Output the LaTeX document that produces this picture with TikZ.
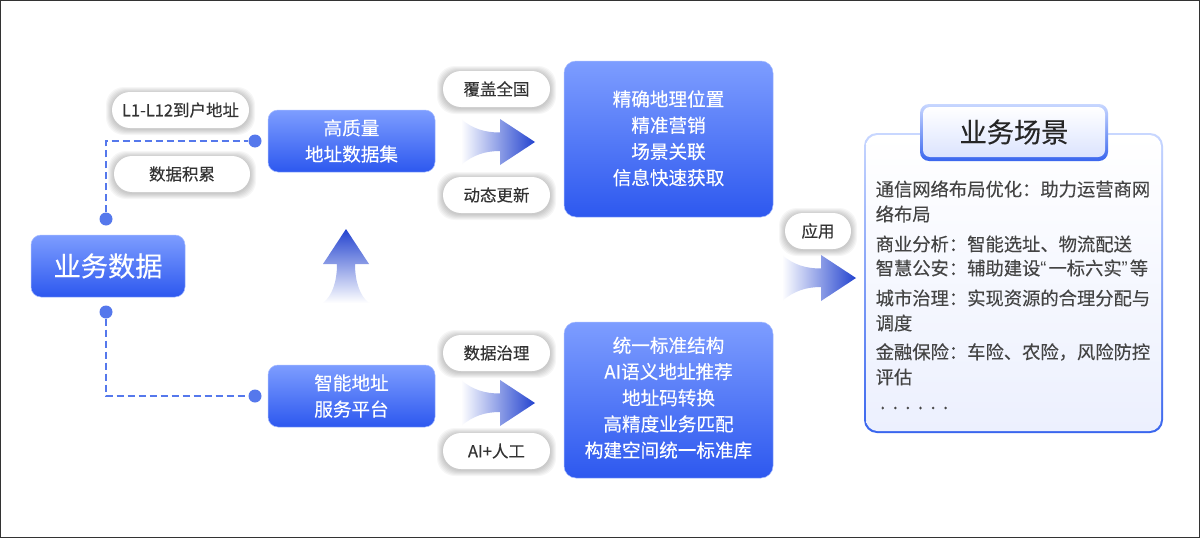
\documentclass[tikz,border=0pt]{standalone}
\usepackage{fontspec}
\setmainfont[FakeBold=0.25]{Noto Sans CJK SC}
\newfontfamily\quotefont{Liberation Sans}
\usetikzlibrary{calc}
\definecolor{boxtop}{HTML}{7D9DFF}
\definecolor{boxbot}{HTML}{2D58EF}
\definecolor{arrowdark}{HTML}{2343CF}
\definecolor{dotblue}{HTML}{5578EC}
\definecolor{pilltext}{HTML}{333333}
\definecolor{paneltext}{HTML}{444444}
\definecolor{edgetop}{HTML}{C8D7FF}
\definecolor{edgebot}{HTML}{3A66EE}
\definecolor{fillbot}{HTML}{ECF0FE}
\tikzset{
  x=1pt,y=-1pt,
  bluebox/.style={rectangle,rounded corners=#1,top color=boxtop,bottom color=boxbot,draw=boxtop!70!white,line width=.5pt,text=white,align=center,inner sep=0pt},
  bigtxt/.style={font=\fontsize{27.2}{30}\selectfont},
  midtxt/.style={font=\fontsize{18.6}{26.2}\selectfont},
  pillbox/.style={rectangle,rounded corners=18pt,fill=white,text=pilltext,inner sep=0pt,minimum height=36pt,font=\fontsize{16.5}{20}\selectfont},
  dotnode/.style={circle,fill=dotblue,minimum size=13pt,inner sep=0pt},
  dashline/.style={draw=dotblue,line width=1.5pt,dash pattern=on 7pt off 4pt},
  paneltxt/.style={anchor=west,align=left,text=paneltext,inner sep=0pt,font=\fontsize{18.3}{25}\selectfont},
  flowfill/.style={left color=white,middle color=arrowdark!42!white,right color=arrowdark},
  upfill/.style={bottom color=white,top color=arrowdark},
}
% a pill with a soft shadow: name, centre x, centre y, width, text
\newcommand{\pill}[5]{%
  \foreach \g in {6,5,4,3,2,1}{%
    \fill[black,opacity=.035,rounded corners=18pt]
      (#2-#4/2-\g,#3-18-\g+1) rectangle (#2+#4/2+\g,#3+18+\g+1);
  }%
  \node[pillbox,minimum width=#4pt] (#1) at (#2,#3) {#5};
}
% a flow arrow whose tail is at x=#1, head base at x=#2, tip at x=#3, centred on y=#4
\newcommand{\flowarrow}[4]{%
  \shade[flowfill] (#1,#4-23) .. controls (#1+12,#4-13) and (#1+24,#4-9.5) .. (#2,#4-9.5)
    -- (#2,#4-23) -- (#3,#4) -- (#2,#4+23) -- (#2,#4+9)
    .. controls (#1+24,#4+9) and (#1+12,#4+13) .. (#1,#4+23) -- cycle;
}
\begin{document}
\begin{tikzpicture}
\useasboundingbox (0,0) rectangle (1200,538);
\fill[white] (0,0) rectangle (1200,538);
\draw[draw=black!80,line width=1.3pt] (.65,.65) rectangle (1199.35,537.35);

% main boxes
\node[bluebox=10pt,bigtxt,minimum width=154pt,minimum height=62pt] (biz) at (108,266) {业务数据};
\node[bluebox=10pt,midtxt,minimum width=167pt,minimum height=62pt] (hq) at (351.5,141) {高质量\\地址数据集};
\node[bluebox=10pt,midtxt,minimum width=167pt,minimum height=62pt] (ai) at (351.5,396) {智能地址\\服务平台};
\node[bluebox=12pt,minimum width=209pt,minimum height=156pt,
  label={[midtxt,text=white,align=center,inner sep=0pt,yshift=.7pt]center:{精确地理位置\\精准营销\\场景关联\\信息快速获取}}] (res1) at (668.5,139) {};
\node[bluebox=12pt,minimum width=209pt,minimum height=156pt,
  label={[midtxt,text=white,align=center,inner sep=0pt,yshift=2.2pt]center:{统一标准结构\\AI语义地址推荐\\地址码转换\\高精度业务匹配\\构建空间统一标准库}}] (res2) at (668.5,400) {};

% connectors
\node[dotnode] (d1) at (106,219) {};
\node[dotnode] (d2) at (255,141) {};
\node[dotnode] (d3) at (106,312) {};
\node[dotnode] (d4) at (255,396) {};
\draw[dashline] (d1) |- (d2);
\draw[dashline] (d3) |- (d4);

% pills
\pill{p1}{180.5}{110}{137}{L1-L12到户地址}
\pill{p2}{182}{174}{136}{数据积累}
\pill{p3}{496.5}{89}{107}{覆盖全国}
\pill{p4}{496.5}{195}{107}{动态更新}
\pill{p5}{496.5}{353}{107}{数据治理}
\pill{p6}{496.5}{451}{107}{AI+人工}
\pill{p7}{818}{231}{66}{应用}

% arrows
\flowarrow{461}{500}{535}{142}
\flowarrow{461}{500}{535}{403}
\flowarrow{782}{821}{856}{278}
\shade[upfill] (346,229) -- (369,264) -- (355,264)
  .. controls (355,282) and (360,296) .. (369,303) -- (323,303)
  .. controls (332,296) and (337,282) .. (337,264) -- (323,264) -- cycle;

% panel
\shade[top color=edgetop,bottom color=edgebot,rounded corners=13pt] (864,133) rectangle (1163,433);
\shade[top color=white,bottom color=fillbot,rounded corners=11.5pt] (866,135) rectangle (1161,431);
\shade[top color=edgetop,bottom color=edgebot,rounded corners=9pt] (920,104) rectangle (1108,161);
\node[rectangle,rounded corners=7pt,top color=white,bottom color=fillbot!85!boxtop,minimum width=182pt,minimum height=50pt,inner sep=0pt,text=black!85,bigtxt] (title) at (1014,132) {业务场景};

\node[paneltxt] (t1) at (875.5,201.5) {通信网络布局优化：助力运营商网\\络布局};
\node[paneltxt] (t2) at (875.5,244) {商业分析：智能选址、物流配送};
\node[paneltxt] (t3) at (875.5,268) {智慧公安：辅助建设{\quotefont “}\hspace{2pt}一标六实{\quotefont ”}\hspace{2pt}等};
\node[paneltxt] (t4) at (875.5,298) {城市治理：实现资源的合理分配与};
\node[paneltxt] (t4b) at (875.5,323) {调度};
\node[paneltxt] (t5) at (875.5,352) {金融保险：车险、农险，风险防控};
\node[paneltxt] (t5b) at (875.5,377) {评估};
\node[paneltxt] (t6) at (880,408) {.\hspace{7.5pt}.\hspace{7.5pt}.\hspace{7.5pt}.\hspace{7.5pt}.\hspace{7.5pt}.};
\end{tikzpicture}
\end{document}
